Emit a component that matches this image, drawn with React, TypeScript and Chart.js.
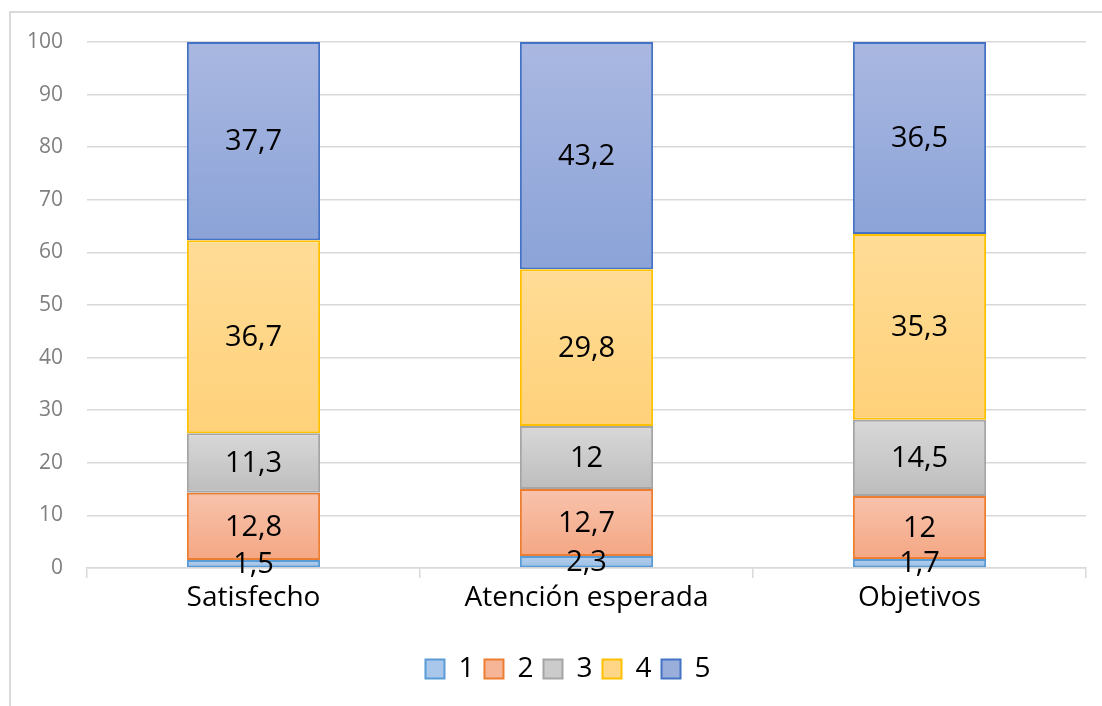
import React, { useEffect, useRef } from "react";
import { Chart, registerables } from "chart.js";

Chart.register(...registerables);

const categories = ["Satisfecho", "Atención esperada", "Objetivos"];
const seriesNames = ["1", "2", "3", "4", "5"];
const s1 = [1.5, 2.3, 1.7];
const s2 = [12.8, 12.7, 12];
const s3 = [11.3, 12, 14.5];
const s4 = [36.7, 29.8, 35.3];
const s5 = [37.7, 43.2, 36.5];
const seriesValues = [s1, s2, s3, s4, s5];

const gradTop = ["#B2CEEC", "#F8C3AC", "#D8D8D8", "#FFDC96", "#AAB8E1"];
const gradBottom = ["#9CBFE7", "#F4A784", "#BDBDBD", "#FFD17A", "#8BA3D8"];
const solid = ["#A8C7EA", "#F6B597", "#CBCBCB", "#FFD688", "#9AAEDC"];
const borders = ["#5B9BD5", "#ED7D31", "#A5A5A5", "#FFC000", "#4472C4"];

const FONT = "'Open Sans', 'Noto Sans', sans-serif";

export default function App() {
  const ref = useRef<HTMLCanvasElement | null>(null);

  useEffect(() => {
    if (!ref.current) return;

    const frame = {
      id: "frame",
      afterLayout(chart: any) {
        const l = chart.legend;
        if (l) {
          l.left += 25;
          l.right += 25;
        }
      },
      beforeDraw(chart: any) {
        const c = chart.ctx;
        c.save();
        c.strokeStyle = "#d9d9d9";
        c.lineWidth = 2;
        c.beginPath();
        c.moveTo(10, 706);
        c.lineTo(10, 12);
        c.lineTo(1102, 12);
        c.stroke();
        c.restore();
      },
    };

    const labelsPlugin = {
      id: "dataLabels",
      afterDatasetsDraw(chart: any) {
        const c = chart.ctx;
        c.save();
        c.font = `29px ${FONT}`;
        c.fillStyle = "#000";
        c.textAlign = "center";
        c.textBaseline = "middle";
        chart.data.datasets.forEach((ds: any, di: number) => {
          const meta = chart.getDatasetMeta(di);
          meta.data.forEach((el: any, i: number) => {
            const v = ds.data[i];
            const cy = (el.y + el.base) / 2;
            c.fillText(String(v).replace(".", ","), el.x, cy + 1);
          });
        });
        c.restore();
      },
    };

    const chart = new Chart(ref.current, {
      type: "bar",
      data: {
        labels: categories,
        datasets: seriesValues.map((vals, si) => ({
          label: seriesNames[si],
          data: vals,
          borderColor: borders[si],
          borderWidth: 2,
          borderSkipped: false,
          categoryPercentage: 1,
          barPercentage: 0.4,
          backgroundColor: (ctx: any) => {
            const ch = ctx.chart;
            if (!ch.chartArea || ctx.type !== "data") return solid[si];
            const y = ch.scales.y;
            let start = 0;
            for (let k = 0; k < si; k++) start += seriesValues[k][ctx.dataIndex];
            const end = start + vals[ctx.dataIndex];
            const g = ch.ctx.createLinearGradient(0, y.getPixelForValue(end), 0, y.getPixelForValue(start));
            g.addColorStop(0, gradTop[si]);
            g.addColorStop(1, gradBottom[si]);
            return g;
          },
        })),
      },
      options: {
        animation: false,
        responsive: false,
        maintainAspectRatio: false,
        layout: { padding: { top: 42, right: 16, left: 0, bottom: 13 } },
        plugins: {
          tooltip: { enabled: false },
          legend: {
            position: "bottom",
            labels: {
              font: { family: FONT, size: 28 },
              color: "#000",
              boxWidth: 19,
              boxHeight: 19,
              padding: 10,
              generateLabels: (ch: any) =>
                ch.data.datasets.map((ds: any, i: number) => ({
                  text: ds.label,
                  fillStyle: solid[i],
                  strokeStyle: borders[i],
                  lineWidth: 2,
                  hidden: false,
                  datasetIndex: i,
                  fontColor: "#000",
                })),
            },
          },
        },
        scales: {
          x: {
            stacked: true,
            grid: {
              offset: true,
              drawOnChartArea: false,
              drawTicks: true,
              tickLength: 10,
              color: "#d9d9d9",
              lineWidth: 1.5,
            },
            border: { display: true, color: "#d9d9d9", width: 1.5 },
            ticks: {
              font: { family: FONT, size: 28 },
              color: "#000",
              padding: 3,
              maxRotation: 0,
            },
            afterFit: (scale: any) => {
              scale.height = 77;
            },
          },
          y: {
            stacked: true,
            min: 0,
            max: 100,
            grid: { color: "#d9d9d9", lineWidth: 1.5, drawTicks: false },
            border: { display: false },
            ticks: {
              stepSize: 10,
              font: { family: FONT, size: 21 },
              color: "#7f7f7f",
              padding: 24,
            },
            afterFit: (scale: any) => {
              scale.width = 87;
            },
          },
        },
      },
      plugins: [frame, labelsPlugin],
    } as any);

    return () => chart.destroy();
  }, []);

  return (
    <div style={{ position: "fixed", left: 0, top: 0, width: 1102, height: 706, background: "#fff" }}>
      <canvas ref={ref} width={1102} height={706} style={{ display: "block" }} />
    </div>
  );
}
